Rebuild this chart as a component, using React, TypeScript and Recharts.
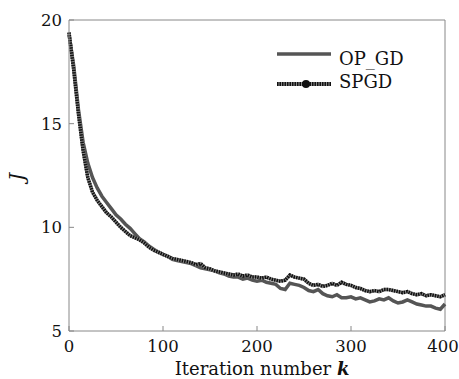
import React from "react";
import {
  LineChart,
  Line,
  XAxis,
  YAxis,
  Legend,
  ReferenceLine,
} from "recharts";

const iterations = [
  0, 5, 10, 15, 20, 25, 30, 35, 40, 45, 50, 55, 60, 65, 70, 75, 80, 85, 90, 95,
  100, 105, 110, 115, 120, 125, 130, 135, 140, 145, 150, 155, 160, 165, 170, 175,
  180, 185, 190, 195, 200, 205, 210, 215, 220, 225, 230, 235, 240, 245, 250, 255,
  260, 265, 270, 275, 280, 285, 290, 295, 300, 305, 310, 315, 320, 325, 330, 335,
  340, 345, 350, 355, 360, 365, 370, 375, 380, 385, 390, 395, 400,
];

const opGd = [
  19.3, 17.8, 15.7, 14.1, 13.1, 12.4, 11.9, 11.5, 11.2, 10.9, 10.6, 10.4, 10.15,
  9.95, 9.7, 9.45, 9.3, 9.1, 8.95, 8.8, 8.7, 8.6, 8.45, 8.4, 8.35, 8.3, 8.25,
  8.15, 8.05, 8.0, 7.95, 7.9, 7.8, 7.75, 7.65, 7.6, 7.6, 7.5, 7.55, 7.45, 7.4,
  7.45, 7.35, 7.3, 7.25, 7.05, 7.0, 7.3, 7.25, 7.2, 7.1, 6.95, 6.9, 7.0, 6.8,
  6.7, 6.65, 6.75, 6.6, 6.6, 6.65, 6.55, 6.6, 6.5, 6.4, 6.45, 6.55, 6.5, 6.6,
  6.45, 6.35, 6.4, 6.5, 6.4, 6.3, 6.25, 6.2, 6.2, 6.1, 6.05, 6.3,
];

const spgd = [
  19.4, 17.6, 15.5, 13.7, 12.4, 11.7, 11.3, 11.0, 10.7, 10.5, 10.25, 10.0, 9.8,
  9.6, 9.5, 9.4, 9.25, 9.05, 8.9, 8.8, 8.7, 8.6, 8.5, 8.45, 8.4, 8.35, 8.3, 8.2,
  8.25, 8.05, 8.0, 7.9, 7.85, 7.8, 7.75, 7.7, 7.75, 7.65, 7.7, 7.6, 7.6, 7.55,
  7.6, 7.5, 7.45, 7.4, 7.45, 7.7, 7.6, 7.55, 7.5, 7.3, 7.2, 7.25, 7.15, 7.2,
  7.3, 7.2, 7.35, 7.25, 7.2, 7.1, 7.05, 6.95, 6.9, 6.95, 6.9, 7.0, 7.0, 6.95,
  6.9, 6.85, 6.9, 6.8, 6.75, 6.8, 6.7, 6.75, 6.7, 6.65, 6.75,
];

const xTicks = [0, 100, 200, 300, 400];
const yTicks = [5, 10, 15, 20];

const data = iterations.map((k, i) => ({ k, op: opGd[i], sp: spgd[i], spBase: spgd[i] }));

const FONT = "DejaVu Serif";
const AXIS = "#888";

const XTick = (props: any) => {
  const { x, y, payload } = props;
  // last label sits at the right edge of the picture
  const dx = payload.value === 400 ? -2 : 0;
  return (
    <g>
      <line x1={x} y1={y} x2={x} y2={y - 5} stroke={AXIS} />
      <text x={x + dx} y={y + 21} textAnchor="middle" fontFamily={FONT} fontSize={16.5} fill="#111">
        {payload.value}
      </text>
    </g>
  );
};

const YTick = (props: any) => {
  const { x, y, payload } = props;
  return (
    <g>
      <line x1={x} y1={y} x2={x + 5} y2={y} stroke={AXIS} />
      <text x={x - 7} y={y + 6} textAnchor="end" fontFamily={FONT} fontSize={16.5} fill="#111">
        {payload.value}
      </text>
    </g>
  );
};

const LegendBox = () => (
  <svg width={170} height={60}>
    <line x1={7} y1={14} x2={61} y2={14} stroke="#555" strokeWidth={3.5} />
    <text x={69} y={25} fontFamily={FONT} fontSize={18} fill="#111">
      OP_GD
    </text>
    <line x1={7} y1={44} x2={61} y2={44} stroke="#888" strokeWidth={4} />
    <line x1={7} y1={44} x2={61} y2={44} stroke="#111" strokeWidth={4} strokeDasharray="1.5 1" />
    <circle cx={36} cy={44} r={4} fill="#111" />
    <text x={69} y={48} fontFamily={FONT} fontSize={18} fill="#111">
      SPGD
    </text>
  </svg>
);

export default function App() {
  return (
    <div style={{ position: "absolute", left: 0, top: 0, width: 459, height: 379, background: "#fff" }}>
      <LineChart
        width={459}
        height={379}
        data={data}
        margin={{ top: 20, right: 14, left: 9, bottom: 8 }}
      >
        <XAxis
          dataKey="k"
          type="number"
          domain={[0, 400]}
          ticks={xTicks}
          tickSize={0}
          tickMargin={0}
          tickLine={false}
          tick={<XTick />}
          stroke={AXIS}
          height={40}
          label={{
            content: () => (
              <text x={262} y={375} textAnchor="middle" fontFamily={FONT} fontSize={18} fill="#111">
                Iteration number <tspan fontStyle="italic" fontWeight="bold">k</tspan>
              </text>
            ),
          }}
        />
        <YAxis
          type="number"
          domain={[5, 20]}
          ticks={yTicks}
          tickSize={0}
          tickMargin={0}
          tickLine={false}
          tick={<YTick />}
          stroke={AXIS}
          width={60}
          label={{
            content: () => (
              <text
                x={24}
                y={177}
                textAnchor="middle"
                fontFamily={FONT}
                fontSize={20}
                fontStyle="italic"
                fill="#111"
                transform="rotate(-90 24 177)"
              >
                J
              </text>
            ),
          }}
        />
        <ReferenceLine y={20} stroke={AXIS} />
        <ReferenceLine x={400} stroke={AXIS} />
        <Legend
          layout="horizontal"
          verticalAlign="middle"
          align="center"
          content={() => <LegendBox />}
          wrapperStyle={{ position: "absolute", top: 40, left: 270, width: 170 }}
        />
        <Line
          type="linear"
          dataKey="op"
          stroke="#555"
          strokeWidth={3.5}
          dot={false}
          legendType="none"
          isAnimationActive={false}
        />
        <Line
          type="linear"
          dataKey="spBase"
          stroke="#888"
          strokeWidth={3.5}
          dot={false}
          legendType="none"
          isAnimationActive={false}
        />
        <Line
          type="linear"
          dataKey="sp"
          stroke="#111"
          strokeWidth={3.5}
          strokeDasharray="1.5 1"
          dot={false}
          isAnimationActive={false}
        />
      </LineChart>
    </div>
  );
}
